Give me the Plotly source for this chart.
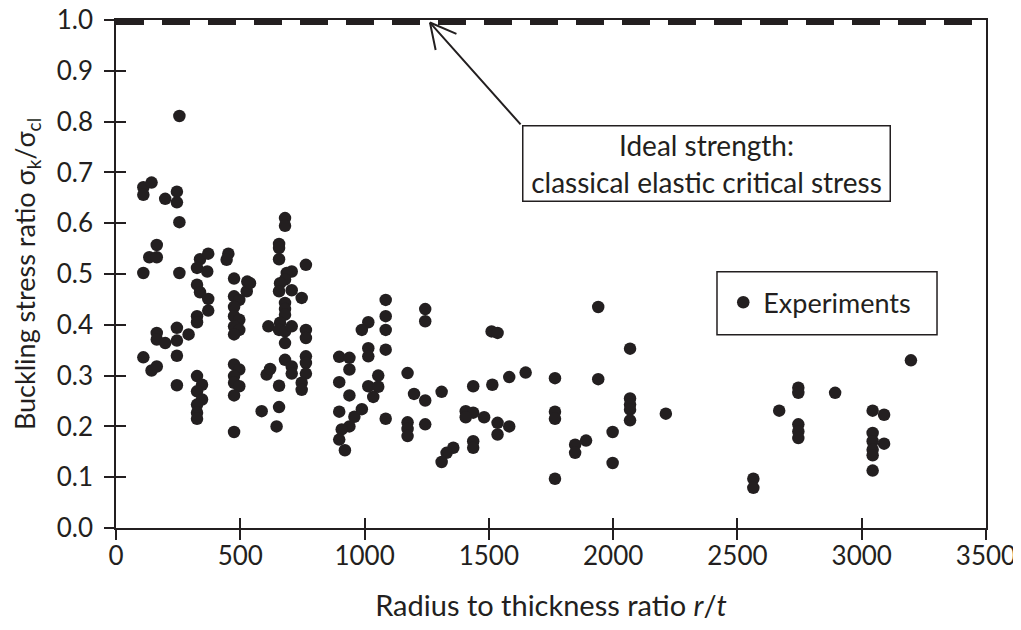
import plotly.graph_objects as go

# Radius-to-thickness ratio r/t of each experiment
rt = [110, 143, 110, 198, 245, 245, 255, 255, 680, 680,
      164, 134, 164, 110, 255, 338, 371, 326, 367, 452,
      445, 475, 528, 526, 539, 326, 338, 371, 371, 475,
      496, 475, 475, 496, 475, 496, 475, 326, 326, 656,
      656, 656, 707, 687, 680, 660, 656, 707, 764, 747,
      680, 680, 680, 660, 613, 656, 680, 707, 680, 764,
      764, 164, 164, 198, 245, 245, 292, 110, 143, 164,
      245, 245, 326, 346, 326, 346, 326, 326, 326, 475,
      496, 475, 475, 496, 475, 475, 606, 620, 656, 680,
      707, 707, 764, 764, 764, 747, 747, 586, 656, 646,
      898, 939, 939, 898, 939, 898, 959, 939, 908, 898,
      921, 989, 1015, 989, 1015, 1015, 1085, 1085, 1085, 1085,
      1055, 1015, 1055, 1035, 1085, 1173, 1199, 1244, 1173, 1173,
      1173, 1244, 1244, 1244, 1310, 1357, 1330, 1310, 1407, 1437,
      1407, 1481, 1437, 1514, 1511, 1535, 1582, 1648, 1535, 1535,
      1582, 1437, 1437, 1940, 2068, 1766, 1940, 2068, 2068, 2068,
      2068, 2212, 1766, 1766, 1847, 1847, 1891, 1998, 1998, 1766,
      2668, 2564, 2564, 2745, 2745, 2745, 2745, 2745, 3198, 2893,
      3044, 3090, 3044, 3044, 3044, 3090, 3044, 3044]

# Buckling stress ratio sigma_k / sigma_cl of each experiment
ratio = [0.671, 0.680, 0.656, 0.648, 0.662, 0.641, 0.811, 0.602, 0.610, 0.595,
         0.557, 0.533, 0.533, 0.502, 0.502, 0.529, 0.540, 0.512, 0.505, 0.540,
         0.528, 0.491, 0.485, 0.466, 0.482, 0.479, 0.464, 0.451, 0.428, 0.456,
         0.449, 0.435, 0.417, 0.410, 0.397, 0.390, 0.381, 0.417, 0.405, 0.559,
         0.551, 0.529, 0.505, 0.502, 0.489, 0.482, 0.466, 0.468, 0.518, 0.453,
         0.443, 0.431, 0.420, 0.404, 0.397, 0.390, 0.387, 0.397, 0.364, 0.390,
         0.374, 0.384, 0.371, 0.364, 0.394, 0.369, 0.381, 0.336, 0.310, 0.318,
         0.339, 0.281, 0.299, 0.282, 0.269, 0.253, 0.243, 0.227, 0.215, 0.322,
         0.312, 0.299, 0.286, 0.279, 0.261, 0.189, 0.302, 0.313, 0.280, 0.331,
         0.318, 0.304, 0.338, 0.325, 0.304, 0.286, 0.272, 0.230, 0.238, 0.200,
         0.337, 0.335, 0.312, 0.287, 0.261, 0.229, 0.219, 0.200, 0.194, 0.174,
         0.153, 0.234, 0.405, 0.390, 0.354, 0.338, 0.449, 0.417, 0.390, 0.351,
         0.300, 0.279, 0.278, 0.258, 0.215, 0.305, 0.264, 0.251, 0.208, 0.195,
         0.181, 0.204, 0.431, 0.407, 0.268, 0.158, 0.148, 0.130, 0.230, 0.227,
         0.218, 0.218, 0.279, 0.282, 0.387, 0.384, 0.297, 0.306, 0.207, 0.184,
         0.200, 0.171, 0.158, 0.435, 0.353, 0.295, 0.293, 0.255, 0.243, 0.233,
         0.212, 0.225, 0.229, 0.215, 0.164, 0.148, 0.172, 0.189, 0.128, 0.097,
         0.231, 0.097, 0.079, 0.276, 0.266, 0.204, 0.190, 0.177, 0.330, 0.266,
         0.231, 0.223, 0.187, 0.171, 0.154, 0.166, 0.143, 0.113]

# Ideal strength line (classical elastic critical stress)
ideal_x = [0, 3500]
ideal_y = [1.0, 1.0]

x_ticks = [0, 500, 1000, 1500, 2000, 2500, 3000, 3500]
y_ticks = [0.0, 0.1, 0.2, 0.3, 0.4, 0.5, 0.6, 0.7, 0.8, 0.9, 1.0]
y_ticktext = [f"{v:.1f}" for v in y_ticks]

INK = "#231f20"
FONT = "Lato"
FS_TEXT = 27

fig = go.Figure()

fig.add_trace(go.Scatter(
    x=ideal_x, y=ideal_y, mode="lines",
    line=dict(color=INK, width=10, dash="28px,18px"),
    showlegend=False, hoverinfo="skip"))

fig.add_trace(go.Scatter(
    x=rt, y=ratio, mode="markers", name="Experiments",
    marker=dict(color=INK, size=12.5, line=dict(width=0)),
    cliponaxis=False))

# invisible trace to host the overlay axes (inside half of crossing ticks)
fig.add_trace(go.Scatter(x=[None], y=[None], xaxis="x2", yaxis="y2",
                         showlegend=False, hoverinfo="skip"))

axis_common = dict(showgrid=False, zeroline=False, linecolor=INK,
                   linewidth=1.5, tickcolor=INK, tickwidth=1.5, ticklen=10,
                   automargin=False, ticklabeloverflow="allow")

fig.update_layout(
    width=1013, height=614,
    margin=dict(l=108, r=35, t=12, b=94),
    paper_bgcolor="white", plot_bgcolor="white",
    font=dict(family=FONT, size=FS_TEXT, color=INK),
    xaxis=dict(range=[0, 3500], tickvals=x_ticks, ticks="outside",
               showline=True, mirror=True, ticklabelstandoff=-6,
               tickfont=dict(family=FONT, size=26, color=INK),
               title=dict(text="Radius to thickness ratio <i>r</i>/<i>t</i>",
                          font=dict(family=FONT, size=29, color=INK), standoff=26),
               **axis_common),
    yaxis=dict(range=[0, 1.0], tickvals=y_ticks, ticktext=y_ticktext,
               ticks="outside", showline=True, mirror=True, ticklabelstandoff=6,
               tickfont=dict(family=FONT, size=26, color=INK),
               title=dict(text="Buckling stress ratio σ<sub>k</sub>/σ<sub>cl</sub>",
                          font=dict(family=FONT, size=27, color=INK), standoff=16),
               **axis_common),
    xaxis2=dict(range=[0, 3500], tickvals=x_ticks, ticks="inside",
                overlaying="x", anchor="y", side="bottom", automargin=False,
                showticklabels=False, showline=False, showgrid=False,
                zeroline=False, tickcolor=INK, tickwidth=1.5, ticklen=10),
    yaxis2=dict(range=[0, 1.0], tickvals=y_ticks, ticks="inside",
                overlaying="y", anchor="x", side="left", automargin=False,
                showticklabels=False, showline=False, showgrid=False,
                zeroline=False, tickcolor=INK, tickwidth=1.5, ticklen=10),
    legend=dict(x=0.698, y=0.4435, xanchor="left", yanchor="middle",
                borderwidth=0, bgcolor="rgba(0,0,0,0)",
                font=dict(family=FONT, size=FS_TEXT, color=INK)),
    showlegend=True,
    shapes=[dict(type="rect", xref="paper", yref="paper",
                 x0=0.6908, x1=0.9437, y0=0.3805, y1=0.5044,
                 line=dict(color=INK, width=1.5), fillcolor="white",
                 layer="below")],
)

# arrow pointing at the ideal-strength line (shaft + open two-stroke head)
TIP_X, TIP_Y = 1263, 0.995
fig.add_annotation(x=TIP_X, y=TIP_Y, xref="x", yref="y",
                   ax=1633, ay=0.7916, axref="x", ayref="y",
                   text="", showarrow=True, arrowhead=0,
                   arrowwidth=2, arrowcolor=INK)
for bx, by in [(28, 12), (6, 29)]:
    fig.add_annotation(x=TIP_X, y=TIP_Y, xref="x", yref="y",
                       ax=bx, ay=by, text="", showarrow=True, arrowhead=0,
                       arrowwidth=2, arrowcolor=INK)

# labelled box
fig.add_annotation(x=2374, y=0.717, xref="x", yref="y",
                   text="Ideal strength:<br>classical elastic critical stress",
                   showarrow=False, align="center",
                   font=dict(family=FONT, size=28, color=INK),
                   bordercolor=INK, borderwidth=1.5, borderpad=5,
                   bgcolor="white", width=356, height=64)

fig.write_html("out.html")
